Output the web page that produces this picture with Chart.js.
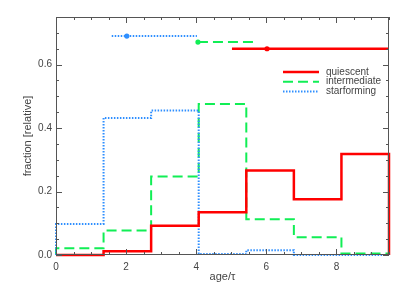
<!DOCTYPE html>
<html><head><meta charset="utf-8">
<script src="https://cdn.jsdelivr.net/npm/chart.js@4/dist/chart.umd.min.js"></script>
<style>html,body{margin:0;padding:0;background:#fff}#wrap{width:407px;height:291px;position:relative}</style>
</head><body><div id="wrap"><canvas id="c"></canvas></div>
<script>
// ---- data ----
const binEdges = [0, 1.357, 2.714, 4.071, 5.429, 6.786, 8.143, 9.5];
const quiescent = [0.0, 0.012, 0.092, 0.135, 0.266, 0.176, 0.318];
const intermediate = [0.021, 0.077, 0.247, 0.476, 0.113, 0.056, 0.005];
const starforming = [0.098, 0.432, 0.455, 0.003, 0.015, 0.0, 0.0];
// mean-age markers: [left end, mean, right end] and level
const quiescentMean = [5.02, 6.02, 9.5];
const quiescentLevel = 0.650;
const intermediateMean = [4.05, 4.05, 5.73];
const intermediateLevel = 0.671;
const starformingMean = [1.59, 2.02, 4.02];
const starformingLevel = 0.690;
const xTicks = [0, 2, 4, 6, 8];
const yTicks = [0.0, 0.2, 0.4, 0.6];
const seriesNames = ['quiescent', 'intermediate', 'starforming'];

const RED = '#ff0000', GREEN = '#11ee55', BLUE = '#2f8fff';
const TXT = '#444';
const FONT = '"Liberation Sans", Arial, sans-serif';

function stepPoints(vals) {
  const pts = [{x: binEdges[0], y: 0}];
  vals.forEach((v, i) => pts.push({x: binEdges[i], y: v}));
  const last = binEdges[binEdges.length - 1];
  pts.push({x: last, y: vals[vals.length - 1]});
  pts.push({x: last, y: 0});
  return pts;
}
function meanPoints(m, lvl) {
  return m.map(v => ({x: v, y: lvl}));
}
const clipArea = {left: 3, right: 3, top: 3, bottom: 3};

const styles = {
  quiescent: {color: RED, width: 2.5, dash: []},
  intermediate: {color: GREEN, width: 2, dash: [10, 5]},
  starforming: {color: BLUE, width: 2, dash: [1.5, 1.5]}
};

function histDS(name, vals, order) {
  const s = styles[name];
  return {label: name, data: stepPoints(vals), stepped: 'before', borderColor: s.color,
    borderWidth: s.width, borderDash: s.dash, pointRadius: 0, fill: false, clip: clipArea, order};
}
function meanDS(name, m, lvl, order) {
  const s = styles[name];
  return {label: name + ' mean', data: meanPoints(m, lvl), borderColor: s.color,
    borderWidth: s.width, borderDash: s.dash, pointRadius: [0, 2.6, 0], pointBorderWidth: 0,
    pointBackgroundColor: s.color, fill: false, clip: clipArea, order};
}

const frame = {
  id: 'frame',
  afterDraw(chart) {
    const {ctx, chartArea: a, scales: {x, y}} = chart;
    ctx.save();
    ctx.strokeStyle = '#555';
    ctx.lineWidth = 1;
    ctx.beginPath();
    ctx.rect(a.left + 0.5, a.top + 0.5, a.right - a.left - 1, a.bottom - a.top - 1);
    ctx.stroke();
    ctx.beginPath();
    for (let v = 0; v <= 9.5 + 1e-9; v += 0.5) {
      const major = xTicks.some(t => Math.abs(t - v) < 1e-6);
      const L = major ? 6 : 3;
      const px = Math.round(x.getPixelForValue(v)) + 0.5;
      ctx.moveTo(px, a.bottom); ctx.lineTo(px, a.bottom - L);
      ctx.moveTo(px, a.top); ctx.lineTo(px, a.top + L);
    }
    for (let v = 0; v <= 0.75 + 1e-9; v += 0.05) {
      const major = yTicks.some(t => Math.abs(t - v) < 1e-6);
      const L = major ? 6 : 3;
      const py = Math.round(y.getPixelForValue(v)) + 0.5;
      ctx.moveTo(a.left, py); ctx.lineTo(a.left + L, py);
      ctx.moveTo(a.right, py); ctx.lineTo(a.right - L, py);
    }
    ctx.stroke();
    // legend
    const lx0 = a.right - 106, lx1 = a.right - 70, tx = a.right - 63;
    let ly = a.top + 55;
    ctx.font = '10px ' + FONT;
    ctx.textBaseline = 'middle';
    ctx.fillStyle = TXT;
    seriesNames.forEach(n => {
      const s = styles[n];
      ctx.beginPath();
      ctx.strokeStyle = s.color; ctx.lineWidth = s.width; ctx.setLineDash(s.dash);
      ctx.moveTo(lx0, ly); ctx.lineTo(lx1, ly); ctx.stroke();
      ctx.setLineDash([]);
      ctx.fillText(n, tx, ly);
      ly += 9.7;
    });
    ctx.restore();
  }
};

new Chart(document.getElementById('c'), {
  type: 'line',
  data: {
    datasets: [
      histDS('quiescent', quiescent, 0),
      meanDS('quiescent', quiescentMean, quiescentLevel, 1),
      histDS('starforming', starforming, 2),
      meanDS('starforming', starformingMean, starformingLevel, 3),
      histDS('intermediate', intermediate, 4),
      meanDS('intermediate', intermediateMean, intermediateLevel, 5)
    ]
  },
  options: {
    responsive: true, maintainAspectRatio: false, animation: false,
    layout: {padding: {left: 17, top: 17, right: 18, bottom: 3}},
    plugins: {legend: {display: false}, tooltip: {enabled: false}},
    scales: {
      x: {
        type: 'linear', min: 0, max: 9.5,
        afterBuildTicks: s => { s.ticks = xTicks.map(v => ({value: v})); },
        afterFit: s => { s.height = 33; },
        grid: {display: false, drawTicks: false},
        border: {display: false},
        ticks: {color: TXT, font: {family: FONT, size: 10}, padding: 6, maxRotation: 0,
          callback: v => String(v)},
        title: {display: true, text: 'age/τ', color: TXT, font: {family: FONT, size: 11}, padding: {top: 0, bottom: 4}}
      },
      y: {
        type: 'linear', min: 0, max: 0.75,
        afterBuildTicks: s => { s.ticks = yTicks.map(v => ({value: v})); },
        afterFit: s => { s.width = 39; },
        grid: {display: false, drawTicks: false},
        border: {display: false},
        ticks: {color: TXT, font: {family: FONT, size: 10}, padding: 4,
          callback: v => Number(v).toFixed(1)},
        title: {display: true, text: 'fraction [relative]', color: TXT, font: {family: FONT, size: 11}, padding: {top: 4, bottom: 0}}
      }
    }
  },
  plugins: [frame]
});
</script>
</body></html>
